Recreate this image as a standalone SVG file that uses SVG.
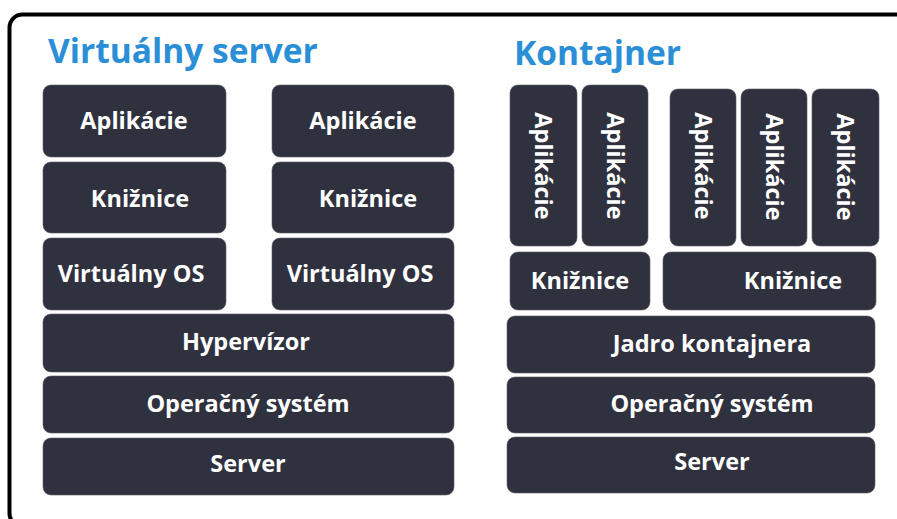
<svg xmlns="http://www.w3.org/2000/svg" width="897" height="519" viewBox="0 0 897 519">
  <style>
    .box { fill: #30313f; stroke: #5a5b66; stroke-width: 0.6; }
    .lbl { font-family: "Open Sans", "Liberation Sans", Arial, sans-serif; font-weight: 700; font-size: 23.5px; fill: #ffffff; text-anchor: middle; }
    .ttl { font-family: "Open Sans", "Liberation Sans", Arial, sans-serif; font-weight: 700; font-size: 33.5px; fill: #2a8fd6; }
  </style>

  <!-- outer frame -->
  <rect x="9.5" y="14.5" width="900" height="512" rx="13" fill="#ffffff" stroke="#000000" stroke-width="4"/>

  <text class="ttl" x="48" y="63">Virtuálny server</text>
  <text class="ttl" x="514" y="65">Kontajner</text>

  <!-- virtual server stack -->
  <g id="vs-app-1"><rect class="box" x="43" y="85" width="183" height="72" rx="8"/><text class="lbl" x="134" y="129">Aplikácie</text></g>
  <g id="vs-lib-1"><rect class="box" x="43" y="162" width="183" height="71" rx="8"/><text class="lbl" x="140" y="207">Knižnice</text></g>
  <g id="vs-os-1"><rect class="box" x="43" y="238" width="183" height="72" rx="8"/><text class="lbl" x="131" y="282">Virtuálny OS</text></g>
  <g id="vs-app-2"><rect class="box" x="272" y="85" width="182" height="72" rx="8"/><text class="lbl" x="363" y="129">Aplikácie</text></g>
  <g id="vs-lib-2"><rect class="box" x="272" y="162" width="182" height="71" rx="8"/><text class="lbl" x="368" y="207">Knižnice</text></g>
  <g id="vs-os-2"><rect class="box" x="272" y="238" width="182" height="72" rx="8"/><text class="lbl" x="360" y="282">Virtuálny OS</text></g>
  <g id="vs-hypervisor"><rect class="box" x="43" y="314" width="411" height="58" rx="8"/><text class="lbl" x="246" y="350">Hypervízor</text></g>
  <g id="vs-host-os"><rect class="box" x="43" y="376" width="411" height="57" rx="8"/><text class="lbl" x="248" y="412">Operačný systém</text></g>
  <g id="vs-server"><rect class="box" x="43" y="438" width="411" height="57" rx="8"/><text class="lbl" x="248" y="472">Server</text></g>

  <!-- container stack -->
  <g id="ct-app-1"><rect class="box" x="510" y="85" width="67" height="161" rx="8"/><text class="lbl" transform="translate(535,166) rotate(90)">Aplikácie</text></g>
  <g id="ct-app-2"><rect class="box" x="582" y="85" width="66" height="161" rx="8"/><text class="lbl" transform="translate(607,166) rotate(90)">Aplikácie</text></g>
  <g id="ct-app-3"><rect class="box" x="670" y="89" width="66" height="157" rx="8"/><text class="lbl" transform="translate(695,166) rotate(90)">Aplikácie</text></g>
  <g id="ct-app-4"><rect class="box" x="741" y="89" width="66" height="157" rx="8"/><text class="lbl" transform="translate(766,167) rotate(90)">Aplikácie</text></g>
  <g id="ct-app-5"><rect class="box" x="812" y="89" width="67" height="157" rx="8"/><text class="lbl" transform="translate(837,167) rotate(90)">Aplikácie</text></g>
  <g id="ct-lib-1"><rect class="box" x="510" y="252" width="140" height="58" rx="8"/><text class="lbl" x="580" y="289">Knižnice</text></g>
  <g id="ct-lib-2"><rect class="box" x="663" y="252" width="213" height="58" rx="8"/><text class="lbl" x="793" y="289">Knižnice</text></g>
  <g id="ct-engine"><rect class="box" x="507" y="316" width="368" height="57" rx="8"/><text class="lbl" x="712" y="352">Jadro kontajnera</text></g>
  <g id="ct-host-os"><rect class="box" x="507" y="377" width="368" height="56" rx="8"/><text class="lbl" x="712" y="412">Operačný systém</text></g>
  <g id="ct-server"><rect class="box" x="507" y="437" width="368" height="56" rx="8"/><text class="lbl" x="712" y="470">Server</text></g>

  <!-- no connectors in this layered diagram -->
  <g id="connectors"/>
</svg>
